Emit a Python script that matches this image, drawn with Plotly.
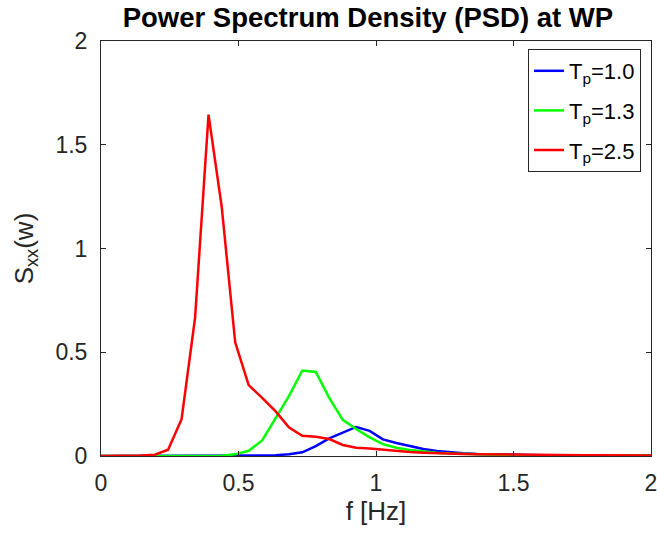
import plotly.graph_objects as go

freq = [0.000, 0.049, 0.098, 0.146, 0.195, 0.244, 0.293, 0.342, 0.391, 0.439,
        0.488, 0.537, 0.586, 0.635, 0.684, 0.732, 0.781, 0.830, 0.879, 0.928,
        0.977, 1.025, 1.074, 1.123, 1.172, 1.221, 1.270, 1.318, 1.367, 1.416,
        1.465, 1.514, 1.563, 1.611, 1.660, 1.709, 1.758, 1.807, 1.855, 1.904,
        1.953, 2.002]

psd_tp10 = [0.0, 0.0, 0.0, 0.0, 0.0, 0.0, 0.0, 0.0, 0.0, 0.0,
            0.0, 0.001, 0.002, 0.004, 0.008, 0.018, 0.048, 0.085, 0.112, 0.140,
            0.121, 0.080, 0.063, 0.047, 0.034, 0.024, 0.017, 0.013, 0.010, 0.008,
            0.006, 0.005, 0.005, 0.004, 0.004, 0.003, 0.003, 0.003, 0.002, 0.002,
            0.002, 0.002]

psd_tp13 = [0.0, 0.0, 0.0, 0.0, 0.0, 0.0, 0.0, 0.0, 0.0, 0.001,
            0.008, 0.025, 0.075, 0.185, 0.290, 0.412, 0.405, 0.280, 0.174, 0.130,
            0.090, 0.057, 0.040, 0.029, 0.021, 0.016, 0.012, 0.010, 0.008, 0.006,
            0.005, 0.004, 0.004, 0.004, 0.003, 0.003, 0.003, 0.002, 0.002, 0.002,
            0.002, 0.002]

psd_tp25 = [0.0, 0.0, 0.001, 0.002, 0.006, 0.030, 0.177, 0.665, 1.645, 1.200,
            0.548, 0.342, 0.280, 0.215, 0.137, 0.097, 0.093, 0.082, 0.053, 0.040,
            0.036, 0.030, 0.024, 0.019, 0.016, 0.013, 0.011, 0.010, 0.009, 0.008,
            0.007, 0.006, 0.006, 0.005, 0.005, 0.004, 0.004, 0.004, 0.003, 0.003,
            0.003, 0.003]

series = [
    ("T<sub>p</sub>=1.0", psd_tp10, "#0000ff"),
    ("T<sub>p</sub>=1.3", psd_tp13, "#00ff00"),
    ("T<sub>p</sub>=2.5", psd_tp25, "#ff0000"),
]

x_ticks = [0, 0.5, 1, 1.5, 2]
y_ticks = [0, 0.5, 1, 1.5, 2]

FONT = "Liberation Sans, Arial, Helvetica, sans-serif"

fig = go.Figure()
for i, (name, vals, col) in enumerate(series):
    fig.add_trace(go.Scatter(x=freq, y=vals, mode="lines", name=name,
                             legendgroup=f"g{i}",
                             line=dict(color=col, width=2.5)))

axis_common = dict(
    showline=True, linecolor="#262626", linewidth=1, mirror="allticks",
    ticks="inside", ticklen=5, tickcolor="#262626",
    showgrid=False, zeroline=False, automargin=False,
    ticklabeloverflow="allow",
    tickfont=dict(family=FONT, size=23, color="#262626"),
)

fig.update_layout(
    width=657, height=534,
    margin=dict(l=101, r=6, t=41, b=78),
    paper_bgcolor="white", plot_bgcolor="white",
    font=dict(family=FONT, size=20, color="#262626"),
    title=dict(text="<b>Power Spectrum Density (PSD) at WP</b>",
               x=0.560, xanchor="center", y=1 - 17 / 534, yanchor="middle",
               font=dict(family=FONT, size=27.5, color="black")),
    xaxis=dict(range=[0, 2], tickvals=x_ticks, ticktext=[str(v) for v in x_ticks],
               ticklabelstandoff=6,
               title=dict(text="f [Hz]", font=dict(family=FONT, size=26, color="#262626"), standoff=6),
               **axis_common),
    yaxis=dict(range=[0, 2], tickvals=y_ticks, ticktext=[str(v) for v in y_ticks],
               ticklabelstandoff=8,
               title=dict(text="S<sub>xx</sub>(w)", font=dict(family=FONT, size=26, color="#262626"), standoff=14),
               **axis_common),
    legend=dict(x=(641 - 101) / 550, xanchor="right", y=(456 - 49) / 415, yanchor="top",
                bgcolor="white", bordercolor="#262626", borderwidth=1,
                font=dict(family=FONT, size=22, color="black"),
                tracegroupgap=8, itemwidth=30),
    showlegend=True,
)

fig.write_html("out.html")
